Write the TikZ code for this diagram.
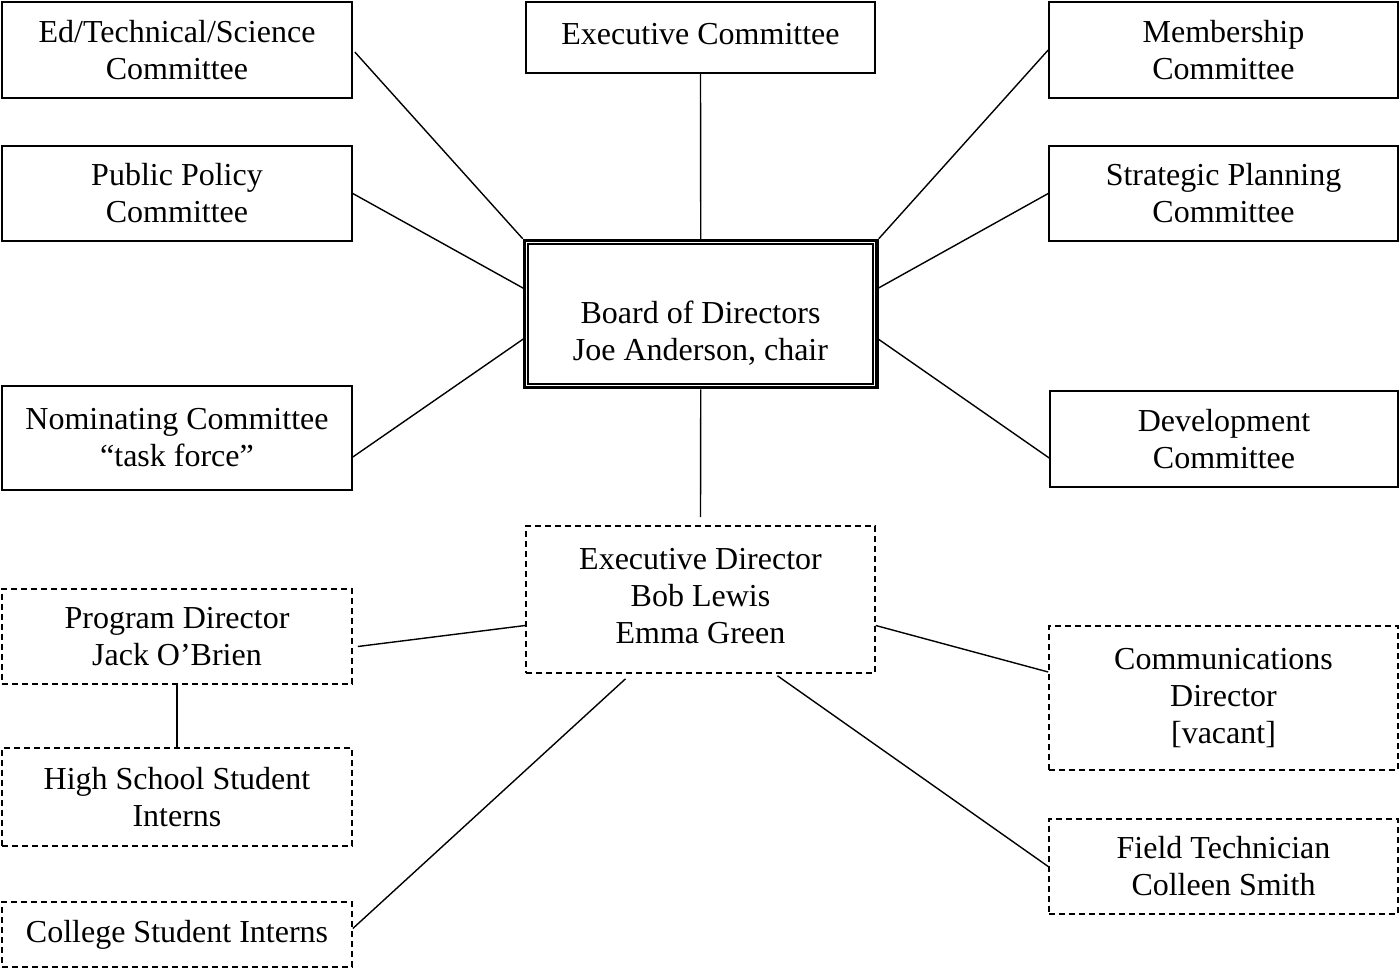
\documentclass[tikz,border=0pt]{standalone}
\usepackage{fontspec}
\setmainfont{Liberation Serif}
\begin{document}
\begin{tikzpicture}[x=0.5pt,y=-0.5pt,
  box/.style={draw,line width=0.8pt,rectangle,inner sep=0pt,align=center,font=\fontsize{16}{18.5}\selectfont},
  dbox/.style={box,dash pattern=on 3.2pt off 1.8pt},
  conn/.style={line width=0.7pt}]
\useasboundingbox (0,0) rectangle (1399,970);
\node[box,minimum width=175pt,minimum height=48pt] (edtech) at (177,50) {Ed/Technical/Science\\Committee};
\node[box,minimum width=174.5pt,minimum height=35.5pt] (exec) at (700.5,37.5) {\raisebox{4pt}{Executive Committee}};
\node[box,minimum width=174.5pt,minimum height=48pt] (member) at (1223.5,50) {Membership\\Committee};
\node[box,minimum width=175pt,minimum height=47.5pt] (policy) at (177,193.5) {Public Policy\\Committee};
\node[box,minimum width=174.5pt,minimum height=47.5pt] (strat) at (1223.5,193.5) {Strategic Planning\\Committee};
\node[draw,line width=1.25pt,rectangle,minimum width=176.75pt,minimum height=74pt,inner sep=0pt] (board) at (700.75,314) {};
\draw[line width=0.4pt] ([shift={(3,3)}]board.north west) rectangle ([shift={(-3,-3)}]board.south east);
\draw[line width=0.9pt] ([shift={(5.5,5.5)}]board.north west) rectangle ([shift={(-5.5,-5.5)}]board.south east);
\node[align=center,inner sep=0pt,font=\fontsize{16}{18.5}\selectfont] (boardtext) at (700.5,333) {Board of Directors\\Joe Anderson, chair};
\node[box,minimum width=175pt,minimum height=52pt] (nom) at (177,438) {Nominating Committee\\``task force''};
\node[box,minimum width=174pt,minimum height=48pt] (dev) at (1224,439) {Development\\Committee};
\node[dbox,minimum width=174.5pt,minimum height=73.5pt] (ed) at (700.5,599.5) {\raisebox{5pt}{\begin{tabular}{@{}c@{}}Executive Director\\Bob Lewis\\Emma Green\end{tabular}}};
\node[dbox,minimum width=175pt,minimum height=47.5pt] (prog) at (177,636.5) {Program Director\\Jack O'Brien};
\node[dbox,minimum width=175pt,minimum height=49pt] (hs) at (177,797) {High School Student\\Interns};
\node[dbox,minimum width=175pt,minimum height=32.5pt] (college) at (177,934.5) {College Student Interns};
\node[dbox,minimum width=174.5pt,minimum height=72pt] (comm) at (1223.5,698) {Communications\\Director\\{[vacant]}};
\node[dbox,minimum width=174.5pt,minimum height=47.5pt] (field) at (1223.5,866.5) {Field Technician\\Colleen Smith};
\draw[conn] ([shift={(2,2)}]edtech.east) -- (board.north west);
\draw[conn] (exec.south) -- (board.north);
\draw[conn] (member.west) -- (board.north east);
\draw[conn] (policy.east) -- ([shift={(2,-25)}]board.west);
\draw[conn] (strat.west) -- ([shift={(-2,-25)}]board.east);
\draw[conn] ([shift={(0,19)}]nom.east) -- ([shift={(2,24)}]board.west);
\draw[conn] ([shift={(0,19)}]dev.west) -- ([shift={(-2,24)}]board.east);
\draw[conn] (board.south) -- ([shift={(0,-8)}]ed.north);
\draw[conn] ([shift={(0,26)}]ed.west) -- ([shift={(5,10)}]prog.east);
\draw[conn] (prog.south) -- (hs.north);
\draw[conn] ([shift={(-75,5)}]ed.south) -- ([shift={(0,-6)}]college.east);
\draw[conn] ([shift={(0,26)}]ed.east) -- ([shift={(0,-26)}]comm.west);
\draw[conn] ([shift={(77,2)}]ed.south) -- (field.west);
\end{tikzpicture}
\end{document}
